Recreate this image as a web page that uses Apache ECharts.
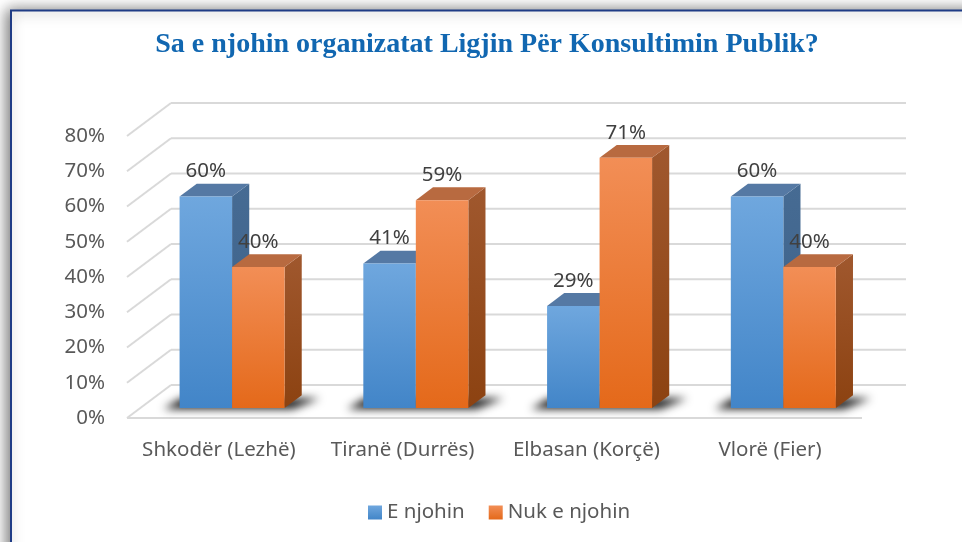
<!DOCTYPE html>
<html>
<head>
<meta charset="utf-8">
<script src="https://cdn.jsdelivr.net/npm/echarts@6/dist/echarts.min.js"></script>
<style>
  html, body { margin: 0; padding: 0; background: #fff; }
  #chart { width: 962px; height: 542px; }
</style>
</head>
<body>
<div id="chart"></div>
<script>
// data
var categories = ['Shkodër (Lezhë)', 'Tiranë (Durrës)', 'Elbasan (Korçë)', 'Vlorë (Fier)'];
var seriesNames = ['E njohin', 'Nuk e njohin'];
var eNjohin = [60, 41, 29, 60];
var nukENjohin = [40, 59, 71, 40];
var yTicks = [0, 10, 20, 30, 40, 50, 60, 70, 80];

// 3d look: depth of the walls and of the bars
var DX = 44, DY = -33;
var FRONT = 0.3, DEPTH = 0.39;
var BAR_W = 0.2857;

var palette = [
    { top: '#6FA7DE', bottom: '#4285C8', lid: '#5579A4', side1: '#466B93', side2: '#3C6088' },
    { top: '#F28E56', bottom: '#E4691A', lid: '#B86A40', side1: '#A0582E', side2: '#8C4211' }
];

function grad(c1, c2) {
    return new echarts.graphic.LinearGradient(0, 0, 0, 1, [
        { offset: 0, color: c1 },
        { offset: 1, color: c2 }
    ]);
}

var myChart = echarts.init(document.getElementById('chart'));

// back wall + left wall lines for each tick
function renderWalls(params, api) {
    var v = api.value(1);
    var bw = api.size([1, 0])[0];
    var p0 = api.coord([0, v]);
    var p3 = api.coord([categories.length - 1, v]);
    var xl = p0[0] - bw / 2, xr = p3[0] + bw / 2, y = p0[1];
    var line = { stroke: '#D9D9D9', lineWidth: 2 };
    var kids = [
        { type: 'line', shape: { x1: xl, y1: y, x2: xl + DX, y2: y + DY }, style: line },
        { type: 'line', shape: { x1: xl + DX, y1: y + DY, x2: xr + DX, y2: y + DY }, style: line }
    ];
    if (v === 0) {
        kids.push({ type: 'line', shape: { x1: xl, y1: y, x2: xr, y2: y }, style: line });
    }
    return { type: 'group', children: kids };
}

// soft shadow on the floor under each pair of bars
function renderShadow(params, api) {
    var i = api.value(0);
    var bw = api.size([1, 0])[0];
    var c = api.coord([i, 0]);
    var w = bw * BAR_W;
    var bx = DX * DEPTH, by = DY * DEPTH;
    var xl = c[0] + DX * FRONT - w, xr = c[0] + DX * FRONT + w, yb = c[1] + DY * FRONT;
    var off = 2000;
    return {
        type: 'polygon',
        shape: { points: [
            [xl - 16 - off, yb + 1], [xr + 8 - off, yb + 1],
            [xr + bx + 18 - off, yb + by + 3], [xl + 2 - off, yb + by + 3]
        ] },
        style: { fill: '#000', shadowBlur: 9, shadowColor: 'rgba(0,0,0,0.9)', shadowOffsetX: off, shadowOffsetY: 0 }
    };
}

function makeBarRenderer(s) {
    return function (params, api) {
        var i = api.value(0), v = api.value(1);
        var bw = api.size([1, 0])[0];
        var c = api.coord([i, v]);
        var base = api.coord([i, 0]);
        var w = bw * BAR_W;
        var x0 = c[0] + DX * FRONT + (s === 0 ? -w : 0);
        var x1 = x0 + w;
        var yT = c[1] + DY * FRONT, yB = base[1] + DY * FRONT;
        var bx = DX * DEPTH, by = DY * DEPTH;
        var col = palette[s];
        return {
            type: 'group',
            children: [
                { type: 'polygon', shape: { points: [[x1, yT], [x1 + bx, yT + by], [x1 + bx, yB + by], [x1, yB]] },
                  style: { fill: grad(col.side1, col.side2) } },
                { type: 'polygon', shape: { points: [[x0, yT], [x0 + bx, yT + by], [x1 + bx, yT + by], [x1, yT]] },
                  style: { fill: col.lid } },
                { type: 'rect', shape: { x: x0, y: yT, width: w, height: yB - yT },
                  style: { fill: grad(col.top, col.bottom) } },
                { type: 'text', x: x0 + w / 2, y: yT - 25,
                  style: { text: v + '%', fill: '#404040', font: '20.5px "Noto Sans"', align: 'center', verticalAlign: 'middle' } }
            ]
        };
    };
}

var option = {
    animation: false,
    title: {
        text: 'Sa e njohin organizatat Ligjin Për Konsultimin Publik?',
        left: 482,
        top: 26,
        textAlign: 'center',
        textStyle: { fontFamily: 'Liberation Serif', fontWeight: 'bold', fontSize: 28, color: '#1167B1' }
    },
    graphic: {
        elements: [{
            type: 'rect', z: -10,
            shape: { x: 11, y: 10.5, width: 1200, height: 800 },
            style: { fill: '#fff', stroke: '#1F3C86', lineWidth: 2,
                     shadowBlur: 14, shadowColor: 'rgba(0,0,0,0.55)', shadowOffsetX: -3, shadowOffsetY: 0 }
        }]
    },
    legend: {
        data: seriesNames,
        left: 363,
        top: 497,
        icon: 'rect',
        itemWidth: 14,
        itemHeight: 14,
        itemGap: 24,
        textStyle: { fontFamily: 'Noto Sans', fontSize: 20.5, color: '#595959' }
    },
    grid: { left: 127, right: 100, top: 136, bottom: 124 },
    xAxis: {
        type: 'category',
        data: categories,
        axisLine: { show: false },
        axisTick: { show: false },
        axisLabel: { interval: 0, margin: 22, fontFamily: 'Noto Sans', fontSize: 20.5, color: '#595959' }
    },
    yAxis: {
        type: 'value',
        min: 0,
        max: 80,
        interval: 10,
        splitLine: { show: false },
        axisLabel: { margin: 22, formatter: '{value}%', fontFamily: 'Noto Sans', fontSize: 20.5, color: '#595959' }
    },
    series: [
        { type: 'custom', name: 'walls', z: 1, silent: true, renderItem: renderWalls,
          data: yTicks.map(function (v) { return [0, v]; }) },
        { type: 'custom', name: 'shadow', z: 2, silent: true, renderItem: renderShadow,
          data: categories.map(function (c, i) { return [i, 0]; }) },
        { type: 'custom', name: seriesNames[0], z: 3, renderItem: makeBarRenderer(0),
          itemStyle: { color: grad(palette[0].top, palette[0].bottom) },
          data: eNjohin.map(function (v, i) { return [i, v]; }) },
        { type: 'custom', name: seriesNames[1], z: 4, renderItem: makeBarRenderer(1),
          itemStyle: { color: grad(palette[1].top, palette[1].bottom) },
          data: nukENjohin.map(function (v, i) { return [i, v]; }) }
    ]
};

myChart.setOption(option);
</script>
</body>
</html>
